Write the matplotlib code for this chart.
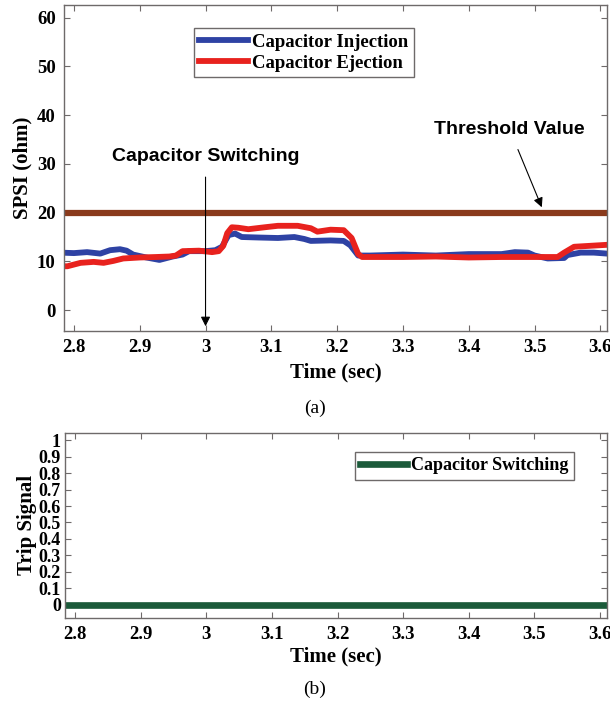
import matplotlib.pyplot as plt

# SPSI response (ohm) for capacitor injection / ejection
t_inj = [2.78, 2.80, 2.82, 2.84, 2.855, 2.87, 2.88, 2.89, 2.91, 2.93, 2.95, 2.965,
         2.975, 3.00, 3.015, 3.025, 3.035, 3.045, 3.055, 3.08, 3.11, 3.135, 3.15,
         3.16, 3.19, 3.21, 3.22, 3.232, 3.25, 3.30, 3.35, 3.40, 3.45, 3.47, 3.49,
         3.50, 3.52, 3.545, 3.55, 3.57, 3.59, 3.61]
spsi_inj = [11.8, 11.7, 11.9, 11.6, 12.3, 12.5, 12.2, 11.4, 10.8, 10.3, 11.0, 11.4,
            12.1, 12.1, 12.3, 13.0, 15.4, 15.7, 15.0, 14.9, 14.8, 15.0, 14.6,
            14.2, 14.3, 14.2, 13.3, 11.2, 11.2, 11.4, 11.2, 11.5, 11.5, 11.9, 11.8,
            11.2, 10.6, 10.7, 11.3, 11.8, 11.8, 11.6]

t_ej = [2.78, 2.79, 2.81, 2.83, 2.845, 2.86, 2.875, 2.90, 2.925, 2.945, 2.955, 2.965,
        2.99, 3.01, 3.02, 3.027, 3.033, 3.04, 3.05, 3.065, 3.09, 3.11, 3.14, 3.16,
        3.17, 3.19, 3.21, 3.222, 3.232, 3.238, 3.30, 3.35, 3.40, 3.45, 3.50, 3.535,
        3.545, 3.56, 3.585, 3.61]
spsi_ej = [9.0, 9.0, 9.7, 9.9, 9.7, 10.1, 10.6, 10.8, 10.9, 11.0, 11.2, 12.1,
           12.2, 11.9, 12.1, 13.2, 15.8, 17.0, 16.9, 16.6, 17.0, 17.3, 17.3, 16.8,
           16.1, 16.5, 16.4, 14.8, 11.5, 10.9, 10.9, 11.0, 10.8, 10.9, 10.9, 10.9,
           11.8, 13.0, 13.2, 13.4]

threshold = 20
t_switch = 3.0

# trip signal stays at zero
t_trip = [2.78, 3.61]
trip = [0, 0]

x_ticks = [2.8, 2.9, 3.0, 3.1, 3.2, 3.3, 3.4, 3.5, 3.6]
x_labels = ['2.8', '2.9', '3', '3.1', '3.2', '3.3', '3.4', '3.5', '3.6']
y1_ticks = [0, 10, 20, 30, 40, 50, 60]
y2_ticks = [0, 0.1, 0.2, 0.3, 0.4, 0.5, 0.6, 0.7, 0.8, 0.9, 1]
y2_labels = ['0', '0.1', '0.2', '0.3', '0.4', '0.5', '0.6', '0.7', '0.8', '0.9', '1']

serif = 'Liberation Serif'
sans = 'Liberation Sans'
frame_col = '#6e6a6a'


def style_axes(ax, size=13.5):
    for s in ax.spines.values():
        s.set_color(frame_col)
        s.set_linewidth(1.0)
    ax.tick_params(direction='in', top=True, right=True, length=4,
                   color=frame_col, labelsize=size, pad=6)
    for lab in ax.get_xticklabels() + ax.get_yticklabels():
        lab.set_fontfamily(serif)
        lab.set_fontweight('bold')


fig = plt.figure(figsize=(6.1, 7.06), dpi=100)
ax1 = fig.add_axes([0.105, 0.531, 0.890, 0.462])
ax2 = fig.add_axes([0.1066, 0.1246, 0.888, 0.2625])

# --- (a) SPSI ---
ax1.plot(t_inj, spsi_inj, color='#2e42a4', lw=4.2, label='Capacitor Injection')
ax1.plot(t_ej, spsi_ej, color='#e8221e', lw=4.2, label='Capacitor Ejection')
ax1.axhline(threshold, color='#8a3a1c', lw=4.5)
ax1.set_xlim(2.785, 3.61)
ax1.set_ylim(-4.3, 62.6)
ax1.set_xticks(x_ticks)
ax1.set_xticklabels(x_labels)
ax1.set_yticks(y1_ticks)
ax1.set_xlabel('Time (sec)', fontfamily=serif, fontweight='bold', fontsize=15, labelpad=4)
ax1.set_ylabel('SPSI (ohm)', fontfamily=serif, fontweight='bold', fontsize=15, labelpad=3)
style_axes(ax1)

leg = ax1.legend(loc='upper left', bbox_to_anchor=(0.239, 0.929), fancybox=False,
                 prop={'family': serif, 'weight': 'bold', 'size': 13.5},
                 handlelength=2.6, handletextpad=0.2, borderpad=0.3,
                 labelspacing=0.2, borderaxespad=0, framealpha=1)
leg.get_frame().set_edgecolor(frame_col)
leg.get_frame().set_linewidth(1.0)

ax1.annotate('Capacitor Switching', xy=(t_switch, -3.3), xytext=(t_switch, 31.6),
             ha='center', va='center', fontfamily=sans, fontweight='bold', fontsize=14,
             arrowprops=dict(arrowstyle='-|>', color='black', lw=0.8,
                             mutation_scale=14, shrinkA=7, shrinkB=0))
ax1.annotate('Threshold Value', xy=(3.511, 21.1), xytext=(3.462, 37.1),
             ha='center', va='center', fontfamily=sans, fontweight='bold', fontsize=14,
             arrowprops=dict(arrowstyle='-|>', color='black', lw=0.8,
                             mutation_scale=14, shrinkA=7, shrinkB=0))

fig.text(0.516, 0.422, '(a)', ha='center', va='center', fontfamily=serif, fontsize=14)

# --- (b) trip signal ---
ax2.plot(t_trip, trip, color='#1b5a3a', lw=4.8, label='Capacitor Switching')
ax2.set_xlim(2.785, 3.61)
ax2.set_ylim(-0.08, 1.045)
ax2.set_xticks(x_ticks)
ax2.set_xticklabels(x_labels)
ax2.set_yticks(y2_ticks)
ax2.set_yticklabels(y2_labels)
ax2.set_xlabel('Time (sec)', fontfamily=serif, fontweight='bold', fontsize=15, labelpad=2)
ax2.set_ylabel('Trip Signal', fontfamily=serif, fontweight='bold', fontsize=15, labelpad=1)
style_axes(ax2)
ax2.tick_params(axis='y', pad=3, labelsize=13)

leg2 = ax2.legend(loc='upper left', bbox_to_anchor=(0.535, 0.896), fancybox=False,
                  prop={'family': serif, 'weight': 'bold', 'size': 13},
                  handlelength=2.6, handletextpad=0.2, borderpad=0.3,
                  borderaxespad=0, framealpha=1)
leg2.get_frame().set_edgecolor(frame_col)
leg2.get_frame().set_linewidth(1.0)

fig.text(0.516, 0.023, '(b)', ha='center', va='center', fontfamily=serif, fontsize=14)

fig.savefig('out.png', dpi=100)
